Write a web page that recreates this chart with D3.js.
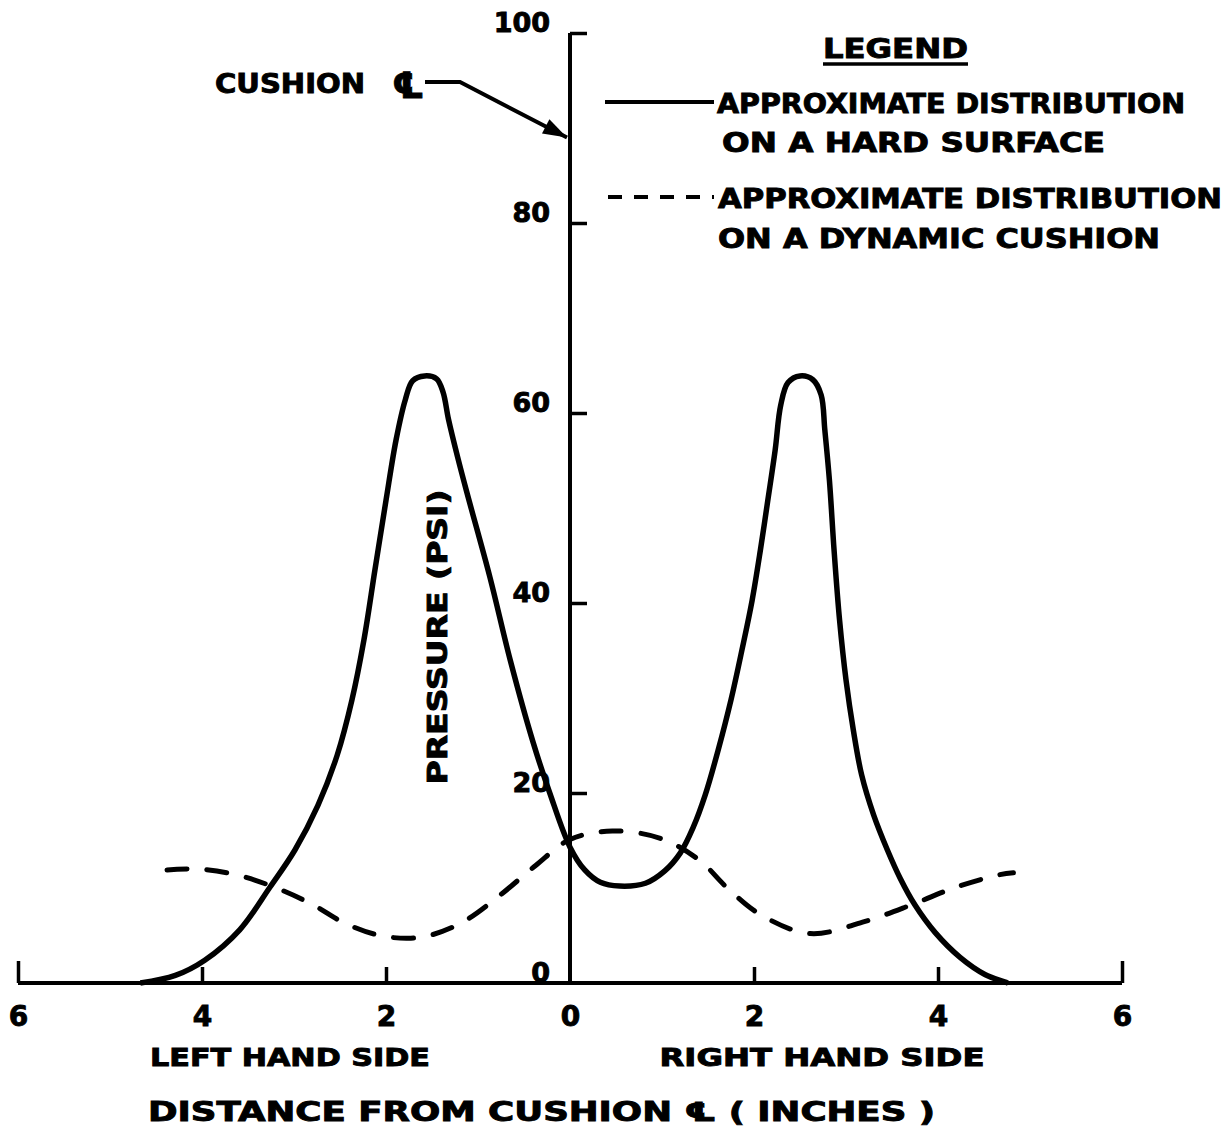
<!DOCTYPE html>
<html><head><meta charset="utf-8">
<script src="https://cdn.jsdelivr.net/npm/d3@7"></script>
<style>
html,body{margin:0;padding:0;background:#fff;}
svg text{font-family:"DejaVu Sans",sans-serif;font-weight:bold;fill:#000;stroke:#000;stroke-width:0.9px;}
</style></head>
<body>
<svg id="chart" width="1230" height="1131"></svg>
<script>
// ---- data (inches from cushion centreline, pressure psi) ----
const hardX = [-4.67,-4.29,-3.97,-3.59,-3.26,-2.99,-2.74,-2.53,-2.37,-2.24,-2.12,-2.00,-1.89,-1.79,-1.71,-1.58,-1.45,-1.38,-1.32,-1.22,-1.12,-0.87,-0.65,-0.40,-0.22,0.00,0.16,0.33,0.54,0.82,1.03,1.20,1.34,1.47,1.61,1.75,1.87,1.98,2.07,2.15,2.23,2.29,2.37,2.50,2.64,2.73,2.77,2.82,2.87,2.93,3.00,3.08,3.17,3.30,3.45,3.59,3.75,3.97,4.24,4.51,4.76];
const hardY = [0.0,0.8,2.4,5.6,10.1,14.0,18.7,24.0,29.8,36.1,43.5,50.8,57.2,61.4,63.4,63.9,63.6,62.2,59.3,55.3,51.6,42.7,34.0,25.3,20.0,14.3,11.9,10.6,10.2,10.5,11.8,13.7,16.4,19.8,24.5,29.8,35.1,40.3,45.6,50.8,56.1,60.8,63.2,63.9,63.5,61.9,58.2,52.9,45.6,38.2,31.9,26.6,21.9,17.7,14.0,11.0,8.2,5.3,2.7,0.9,0.0];
const dynX = [-4.38,-4.05,-3.63,-3.14,-2.77,-2.47,-2.11,-1.76,-1.49,-1.15,-0.74,-0.37,0.00,0.46,0.99,1.41,1.70,2.07,2.61,3.18,3.73,4.20,4.67,4.82];
const dynY = [11.9,12.0,11.4,9.8,8.1,6.4,5.1,4.7,5.1,6.5,9.4,12.4,15.1,16.0,15.2,12.9,10.1,7.2,5.2,6.4,8.3,10.1,11.4,11.6];
const xTickValues = [-6,-4,-2,0,2,4,6];
const yTickValues = [0,20,40,60,80,100];
const sideLabels = ["LEFT HAND SIDE","RIGHT HAND SIDE"];
const legendLabels = [["APPROXIMATE DISTRIBUTION","ON A HARD SURFACE"],["APPROXIMATE DISTRIBUTION","ON A DYNAMIC CUSHION"]];

const svg = d3.select("#chart");
const x = d3.scaleLinear().domain([-6,6]).range([18,1122]);
const y = d3.scaleLinear().domain([0,100]).range([983,33]);

// axes lines
svg.append("line").attr("x1",x(-6)).attr("x2",x(6)).attr("y1",y(0)).attr("y2",y(0))
  .attr("stroke","#000").attr("stroke-width",4);
svg.append("line").attr("x1",x(0)).attr("x2",x(0)).attr("y1",y(0)+2).attr("y2",y(100))
  .attr("stroke","#000").attr("stroke-width",4);

// x ticks (upwards)
const xt = svg.append("g").attr("transform",`translate(0,${y(0)})`)
  .call(d3.axisTop(x).tickValues(xTickValues.filter(v=>v!==0)).tickSize(0).tickFormat(""));
xt.select(".domain").remove();
xt.selectAll(".tick line").attr("y2",d=>Math.abs(d)===6?-22:-16).attr("stroke","#000").attr("stroke-width",3.5);

// x tick labels
const xl = svg.append("g").attr("transform",`translate(0,${y(0)})`)
  .call(d3.axisBottom(x).tickValues(xTickValues).tickSize(0).tickPadding(0).tickFormat(d=>Math.abs(d)));
xl.select(".domain").remove();
xl.selectAll(".tick text").attr("y",43).attr("dy",null).style("font-size","28px")
  .style("font-family","DejaVu Sans").style("font-weight","bold");

// y ticks (to the right)
const yt = svg.append("g").attr("transform",`translate(${x(0)},0)`)
  .call(d3.axisRight(y).tickValues(yTickValues.filter(v=>v!==0)).tickSize(17).tickFormat(""));
yt.select(".domain").remove();
yt.selectAll(".tick line").attr("stroke","#000").attr("stroke-width",3.5);

// y tick labels
const yl = svg.append("g").attr("transform",`translate(${x(0)},0)`)
  .call(d3.axisLeft(y).tickValues(yTickValues).tickSize(0).tickPadding(20));
yl.select(".domain").remove();
yl.selectAll(".tick text").attr("dy","-0.05em").style("font-size","27px")
  .style("font-family","DejaVu Sans").style("font-weight","bold");

// curves
const line = d3.line().x(d=>x(d[0])).y(d=>y(d[1])).curve(d3.curveCatmullRom.alpha(0.5));
svg.append("path").datum(hardX.map((v,i)=>[v,hardY[i]])).attr("d",line)
  .attr("fill","none").attr("stroke","#000").attr("stroke-width",5.5).attr("stroke-linejoin","round");
svg.append("path").datum(dynX.map((v,i)=>[v,dynY[i]])).attr("d",line)
  .attr("fill","none").attr("stroke","#000").attr("stroke-width",5).attr("stroke-dasharray","20,20")
  .attr("stroke-linecap","round");

// axis titles
svg.append("text").attr("transform",`translate(447,${637}) rotate(-90)`).attr("text-anchor","middle")
  .attr("textLength",295).attr("lengthAdjust","spacingAndGlyphs").style("font-size","26px").text("PRESSURE (PSI)");
svg.append("text").attr("x",290).attr("y",1066).attr("text-anchor","middle")
  .attr("textLength",280).attr("lengthAdjust","spacingAndGlyphs").style("font-size","24px").text(sideLabels[0]);
svg.append("text").attr("x",822).attr("y",1066).attr("text-anchor","middle")
  .attr("textLength",325).attr("lengthAdjust","spacingAndGlyphs").style("font-size","24px").text(sideLabels[1]);
svg.append("text").attr("x",148).attr("y",1121)
  .attr("textLength",787).attr("lengthAdjust","spacingAndGlyphs").style("font-size","26px")
  .text("DISTANCE  FROM  CUSHION ℄ ( INCHES )");

// cushion centreline annotation
svg.append("text").attr("x",215).attr("y",93).attr("textLength",150).attr("lengthAdjust","spacingAndGlyphs")
  .style("font-size","26px").text("CUSHION");
svg.append("text").attr("x",392).attr("y",98).style("font-size","36px").text("℄");
const tipX = x(0)-3, tipY = y(89);
svg.append("path").attr("d",`M425,82 L460,82 L${tipX},${tipY}`).attr("fill","none")
  .attr("stroke","#000").attr("stroke-width",4);
const ang = Math.atan2(tipY-82, tipX-460);
const ah = 24, aw = 8;
const bx = tipX - ah*Math.cos(ang), by = tipY - ah*Math.sin(ang);
svg.append("path").attr("d",`M${tipX},${tipY} L${bx - aw*Math.sin(ang)},${by + aw*Math.cos(ang)} L${bx + aw*Math.sin(ang)},${by - aw*Math.cos(ang)} Z`)
  .attr("fill","#000");

// legend
svg.append("text").attr("x",823).attr("y",58).attr("textLength",145).attr("lengthAdjust","spacingAndGlyphs")
  .style("font-size","26px").text("LEGEND");
svg.append("line").attr("x1",823).attr("x2",968).attr("y1",64).attr("y2",64).attr("stroke","#000").attr("stroke-width",3.5);
svg.append("line").attr("x1",605).attr("x2",714).attr("y1",102).attr("y2",102).attr("stroke","#000").attr("stroke-width",4);
svg.append("line").attr("x1",608).attr("x2",714).attr("y1",197).attr("y2",197).attr("stroke","#000").attr("stroke-width",4)
  .attr("stroke-dasharray","14,12");
const legRows = [[legendLabels[0][0],717,113,468],[legendLabels[0][1],722,152,383],[legendLabels[1][0],718,208,504],[legendLabels[1][1],718,248,442]];
legRows.forEach(r=>{
  svg.append("text").attr("x",r[1]).attr("y",r[2]).attr("textLength",r[3]).attr("lengthAdjust","spacingAndGlyphs")
    .style("font-size","26px").text(r[0]);
});
</script>
</body></html>
